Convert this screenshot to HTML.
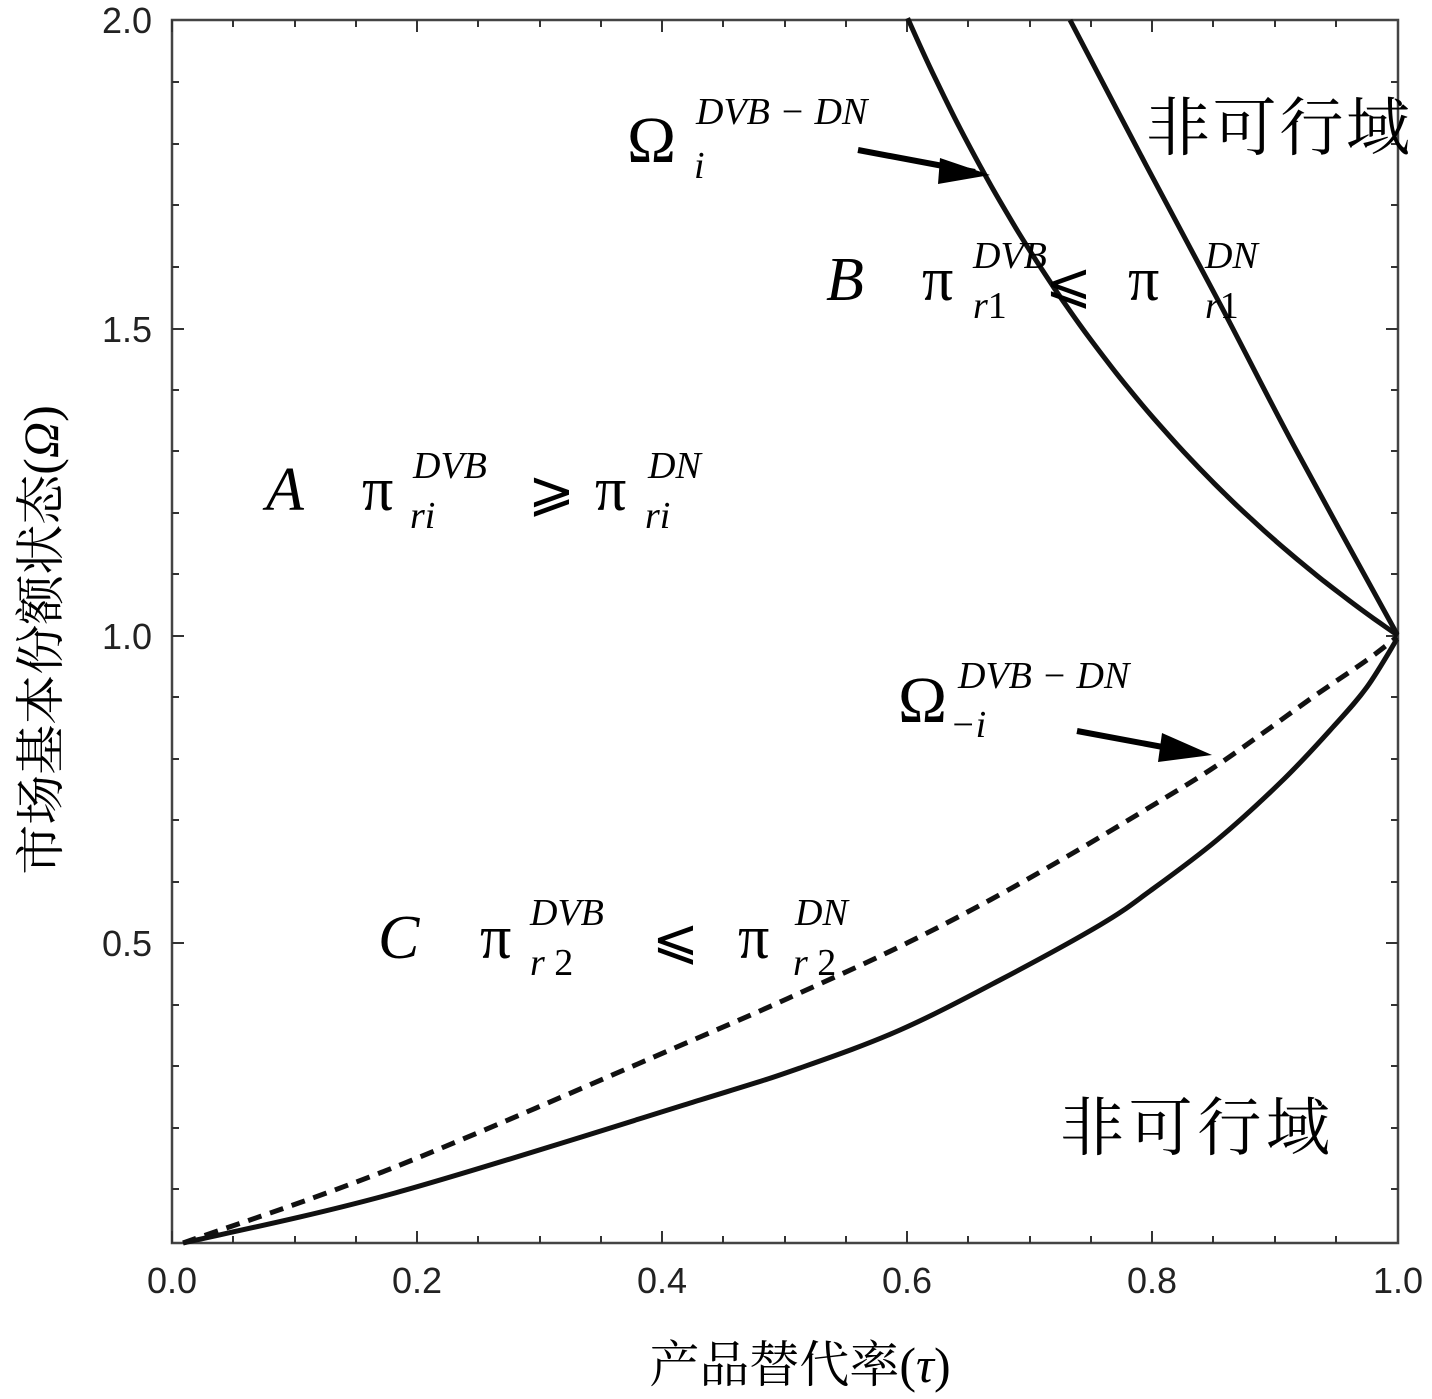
<!DOCTYPE html><html><head><meta charset="utf-8"><style>body{margin:0;background:#fff}svg{display:block}</style></head><body>
<svg width="1432" height="1399" viewBox="0 0 1432 1399" xmlns="http://www.w3.org/2000/svg">
<rect x="172" y="20" width="1226" height="1223" fill="none" stroke="#444" stroke-width="2.5"/>
<g stroke="#333" stroke-width="2">
<path d="M172,1243v-12M233,1243v-7M295,1243v-7M356,1243v-7M417,1243v-12M478,1243v-7M540,1243v-7M601,1243v-7M662,1243v-12M723,1243v-7M785,1243v-7M846,1243v-7M907,1243v-12M968,1243v-7M1030,1243v-7M1091,1243v-7M1152,1243v-12M1213,1243v-7M1275,1243v-7M1336,1243v-7
M172,20v12M233,20v7M295,20v7M356,20v7M417,20v12M478,20v7M540,20v7M601,20v7M662,20v12M723,20v7M785,20v7M846,20v7M907,20v12M968,20v7M1030,20v7M1091,20v7M1152,20v12M1213,20v7M1275,20v7M1336,20v7"/>
<path d="M172,1189h7M172,1128h7M172,1066h7M172,1005h7M172,943h12M172,882h7M172,820h7M172,759h7M172,697h7M172,636h12M172,574h7M172,513h7M172,451h7M172,390h7M172,329h12M172,267h7M172,205h7M172,144h7M172,82h7
M1398,1189h-7M1398,1128h-7M1398,1066h-7M1398,1005h-7M1398,943h-12M1398,882h-7M1398,820h-7M1398,759h-7M1398,697h-7M1398,636h-12M1398,574h-7M1398,513h-7M1398,451h-7M1398,390h-7M1398,329h-12M1398,267h-7M1398,205h-7M1398,144h-7M1398,82h-7"/>
</g>
<g font-family="Liberation Sans, sans-serif" font-size="36" fill="#222" text-anchor="end">
<text x="152" y="33">2.0</text><text x="152" y="342">1.5</text><text x="152" y="649">1.0</text><text x="152" y="956">0.5</text>
</g>
<g font-family="Liberation Sans, sans-serif" font-size="36" fill="#222" text-anchor="middle">
<text x="172" y="1293">0.0</text><text x="417" y="1293">0.2</text><text x="662" y="1293">0.4</text><text x="907" y="1293">0.6</text><text x="1152" y="1293">0.8</text><text x="1398" y="1293">1.0</text>
</g>
<text x="800" y="1382" font-family="Liberation Serif, Noto Serif CJK SC, serif" font-size="50" text-anchor="middle">产品替代率(<tspan font-style="italic">τ</tspan>)</text>
<text transform="translate(58,640) rotate(-90)" font-family="Liberation Serif, Noto Serif CJK SC, serif" font-size="50" text-anchor="middle">市场基本份额状态(<tspan font-style="italic">Ω</tspan>)</text>
<g fill="none" stroke="#111" stroke-width="5">
<path id="c1"/><path id="c2"/><path id="c3"/><path id="c4" stroke-dasharray="14,9"/>
</g>
<path d="M858,150 L975,172" stroke="#000" stroke-width="6"/>
<path d="M1077,731 L1195,753" stroke="#000" stroke-width="6"/>
<path d="M940,158 L990,175 L938,184z"/>
<path d="M1162,733 L1212,755 L1158,762z"/>
<g font-family="Liberation Serif, serif" fill="#000">
<text x="627" y="162" font-size="66">Ω</text>
<text x="696" y="124" font-size="38" font-style="italic">DVB − DN</text>
<text x="694" y="178" font-size="38" font-style="italic">i</text>
<text x="898" y="722" font-size="66">Ω</text>
<text x="958" y="688" font-size="38" font-style="italic">DVB − DN</text>
<text x="950" y="737" font-size="38" font-style="italic">−i</text>
<text x="826" y="300" font-size="62" font-style="italic">B</text>
<text x="922" y="300" font-size="62">π</text>
<text x="973" y="268" font-size="38" font-style="italic">DVB</text>
<text x="973" y="318" font-size="38"><tspan font-style="italic">r</tspan>1</text>
<text x="1045" y="302" font-size="56">⩽</text>
<text x="1128" y="300" font-size="62">π</text>
<text x="1205" y="268" font-size="38" font-style="italic">DN</text>
<text x="1205" y="318" font-size="38"><tspan font-style="italic">r</tspan>1</text>
<text x="266" y="510" font-size="62" font-style="italic">A</text>
<text x="362" y="510" font-size="62">π</text>
<text x="413" y="478" font-size="38" font-style="italic">DVB</text>
<text x="410" y="528" font-size="38" font-style="italic">ri</text>
<text x="528" y="510" font-size="56">⩾</text>
<text x="595" y="510" font-size="62">π</text>
<text x="648" y="478" font-size="38" font-style="italic">DN</text>
<text x="645" y="528" font-size="38" font-style="italic">ri</text>
<text x="378" y="958" font-size="62" font-style="italic">C</text>
<text x="480" y="958" font-size="62">π</text>
<text x="530" y="925" font-size="38" font-style="italic">DVB</text>
<text x="530" y="975" font-size="38"><tspan font-style="italic">r</tspan> 2</text>
<text x="652" y="958" font-size="56">⩽</text>
<text x="738" y="958" font-size="62">π</text>
<text x="795" y="925" font-size="38" font-style="italic">DN</text>
<text x="793" y="975" font-size="38"><tspan font-style="italic">r</tspan> 2</text>
</g>
<g font-family="Liberation Serif, Noto Serif CJK SC, serif" fill="#000">
<text x="1146" y="150" font-size="64" textLength="264">非可行域</text>
<text x="1060" y="1150" font-size="64" textLength="270">非可行域</text>
</g>
</svg>
<script>
function cr(p){var d="M"+p[0][0]+","+p[0][1];for(var i=0;i<p.length-1;i++){var a=p[i-1]||p[i],b=p[i],c=p[i+1],e=p[i+2]||c;
d+=" C"+(b[0]+(c[0]-a[0])/6).toFixed(1)+","+(b[1]+(c[1]-a[1])/6).toFixed(1)+" "+(c[0]-(e[0]-b[0])/6).toFixed(1)+","+(c[1]-(e[1]-b[1])/6).toFixed(1)+" "+c[0]+","+c[1];}return d;}
var p1=[];for(var t=0.6;t<=1.0001;t+=0.01){p1.push([+(172+1226*t).toFixed(1),+(1251-615.5*Math.pow(t,-1.36)).toFixed(1)]);}
document.getElementById("c1").setAttribute("d",cr(p1));
document.getElementById("c2").setAttribute("d",cr([[1070,20],[1146,165],[1220,304],[1294,446],[1397,634]]));
document.getElementById("c3").setAttribute("d",cr([[183,1243],[395,1193],[700,1100],[800,1068],[900,1030],[1000,980],[1100,925],[1150,891],[1217,840],[1283,780],[1333,727],[1367,687],[1397,639]]));
document.getElementById("c4").setAttribute("d",cr([[183,1243],[395,1167],[700,1037],[813,987],[903,945],[990,900],[1073,853],[1150,807],[1210,770],[1263,733],[1313,697],[1367,660],[1397,637]]));
</script>
</body></html>
